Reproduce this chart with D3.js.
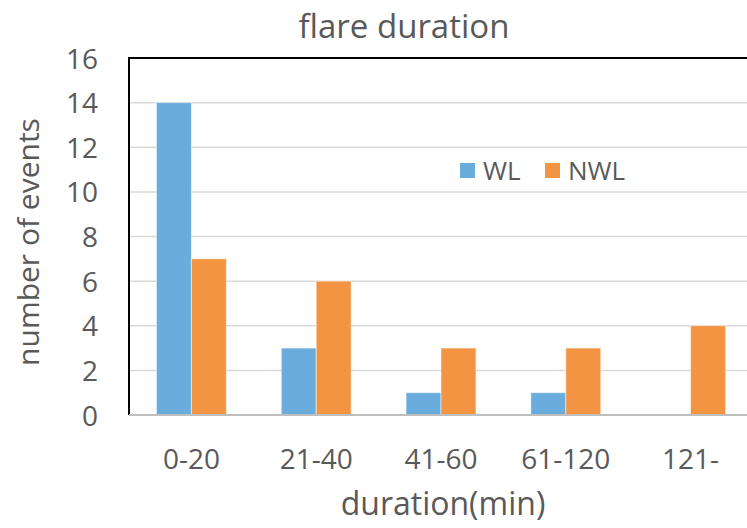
<!DOCTYPE html>
<html>
<head>
<meta charset="utf-8">
<script src="https://cdn.jsdelivr.net/npm/d3@7"></script>
<style>
  body { margin: 0; background: #fff; }
  text { font-family: "Open Sans", sans-serif; fill: #595959; }
</style>
</head>
<body>
<svg id="chart" width="747" height="528"></svg>
<script>
const categories = ["0-20", "21-40", "41-60", "61-120", "121-"]
const seriesNames = ["WL", "NWL"]
const wlValues = [14, 3, 1, 1, 0]
const nwlValues = [7, 6, 3, 3, 4]
const yTicks = [0, 2, 4, 6, 8, 10, 12, 14, 16]
const colors = ["#6aaddd", "#f29441"]

const svg = d3.select("#chart")
const plotLeft = 129, plotRight = 753, plotTop = 58, plotBottom = 415

const x = d3.scaleBand().domain(categories).range([plotLeft, plotRight]).paddingInner(0.44).paddingOuter(0.22)
const x1 = d3.scaleBand().domain(seriesNames).range([0, x.bandwidth()])
const y = d3.scaleLinear().domain([0, 16]).range([plotBottom, plotTop])

// gridlines
svg.append("g").selectAll("line").data(yTicks.slice(1, -1)).enter().append("line")
  .attr("x1", plotLeft).attr("x2", 747)
  .attr("y1", d => y(d)).attr("y2", d => y(d))
  .attr("stroke", "#d9d9d9").attr("stroke-width", 1.5)

// bars
const rows = categories.map((c, i) => ({ cat: c, vals: [wlValues[i], nwlValues[i]] }))
svg.append("g").selectAll("g").data(rows).enter().append("g")
  .attr("transform", d => `translate(${x(d.cat)},0)`)
  .selectAll("rect")
  .data(d => d.vals.map((v, j) => ({ key: seriesNames[j], v: v, j: j })).filter(d => d.v > 0))
  .enter().append("rect")
  .attr("x", d => x1(d.key)).attr("width", x1.bandwidth())
  .attr("y", d => y(d.v)).attr("height", d => y(0) - y(d.v))
  .attr("fill", d => colors[d.j])
  .attr("stroke", "#fff").attr("stroke-opacity", 0.5).attr("stroke-width", 1)

// frame lines
svg.append("line").attr("x1", plotLeft).attr("x2", 747).attr("y1", plotTop).attr("y2", plotTop)
  .attr("stroke", "#000").attr("stroke-width", 2)
svg.append("line").attr("x1", plotLeft).attr("x2", plotLeft).attr("y1", plotTop - 1).attr("y2", plotBottom)
  .attr("stroke", "#000").attr("stroke-width", 2)

// x axis
const xAxis = svg.append("g").attr("transform", `translate(0,${plotBottom})`)
  .call(d3.axisBottom(x).tickSize(0).tickPadding(34))
xAxis.select(".domain").attr("stroke", "#bfbfbf").attr("stroke-width", 2).attr("d", `M${plotLeft},0H747`)
xAxis.selectAll("text").attr("font-size", 28).attr("fill", "#595959").style("font-family", "Open Sans")

// y axis
const yAxis = svg.append("g").attr("transform", `translate(${plotLeft},0)`)
  .call(d3.axisLeft(y).tickValues(yTicks).tickSize(0).tickPadding(31))
yAxis.select(".domain").remove()
yAxis.selectAll("text").attr("font-size", 28).attr("fill", "#595959").attr("dy", "0.36em").style("font-family", "Open Sans")

// titles
svg.append("text").attr("x", 404).attr("y", 38).attr("text-anchor", "middle")
  .attr("font-size", 33).text("flare duration")
svg.append("text").attr("x", 443).attr("y", 515).attr("text-anchor", "middle")
  .attr("font-size", 32).text("duration(min)")
svg.append("text").attr("transform", "translate(39,242) rotate(-90)").attr("text-anchor", "middle")
  .attr("font-size", 30).text("number of events")

// legend
const legend = svg.append("g").selectAll("g").data(seriesNames).enter().append("g")
  .attr("transform", (d, i) => `translate(${[460, 545][i]},163)`)
legend.append("rect").attr("width", 15).attr("height", 15).attr("fill", (d, i) => colors[i])
legend.append("text").attr("x", 23).attr("y", 17).attr("font-size", 26).text(d => d)
</script>
</body>
</html>
